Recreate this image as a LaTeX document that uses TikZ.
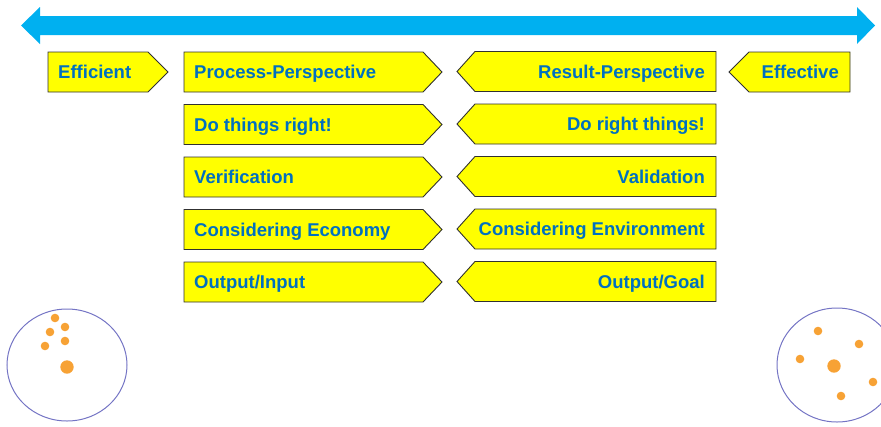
\documentclass[tikz,border=0pt]{standalone}
\usepackage{fontspec}
\setmainfont{Liberation Sans}
\usepackage{xcolor}
\usetikzlibrary{calc}
\definecolor{arrowblue}{HTML}{00B0F0}
\definecolor{boxyellow}{HTML}{FFFF00}
\definecolor{boxline}{HTML}{303030}
\definecolor{textblue}{HTML}{0070C0}
\definecolor{ringblue}{HTML}{7474C4}
\definecolor{dotorange}{HTML}{F7A235}
% pointing boxes: left edge, right edge, tip, top
\newcommand{\boxtoright}[4]{\draw[box] (#1,#4) -- (#2,#4) -- (#3,#4+20) -- (#2,#4+40) -- (#1,#4+40) -- cycle;}
\newcommand{\boxtoleft}[4]{\draw[box] (#2,#4) -- (#1,#4) -- (#3,#4+20) -- (#1,#4+40) -- (#2,#4+40) -- cycle;}
\begin{document}
\begin{tikzpicture}[x=1pt,y=-1pt,
    box/.style={draw=boxline,fill=boxyellow,line width=0.9pt,line join=miter},
    lbl/.style={text=textblue,font=\bfseries\fontsize{18.5}{20}\selectfont,inner sep=0pt},
    ring/.style={draw=ringblue,line width=1pt},
    dot/.style={fill=dotorange}]
	    \useasboundingbox (0,0) rectangle (881,426);

	    % double arrow on top
	    \fill[arrowblue] (21,25.5) -- (40,7) -- (40,16) -- (857,16) -- (857,7) -- (875,25.5)
	        -- (857,44) -- (857,35) -- (40,35) -- (40,44) -- cycle;

	    % boxes
	    \boxtoright{48}{148}{168}{52}
	    \boxtoleft{749}{850}{729}{52}
	    \foreach \t in {52,104.5,157,209.5,262}{
	        \boxtoright{184}{423}{442}{\t}
	        \boxtoleft{475}{716}{457}{\t-0.5}
	    }

	    % labels (on their base lines)
	    \node[lbl,anchor=base west] (efficient) at (58,78.6) {Efficient};
	    \node[lbl,anchor=base east] (effective) at (839,78.6) {Effective};
	    \node[lbl,anchor=base west] (process) at (194,78.6) {Process-Perspective};
	    \node[lbl,anchor=base west] (thingsright) at (194,131.1) {Do things right!};
	    \node[lbl,anchor=base west] (verification) at (194,183.6) {Verification};
	    \node[lbl,anchor=base west] (economy) at (194,236.1) {Considering Economy};
	    \node[lbl,anchor=base west] (outinput) at (194,288.6) {Output/Input};
	    \node[lbl,anchor=base east] (result) at (705,78.1) {Result-Perspective};
	    \node[lbl,anchor=base east] (rightthings) at (705,130.6) {Do right things!};
	    \node[lbl,anchor=base east] (validation) at (705,183.1) {Validation};
	    \node[lbl,anchor=base east] (environment) at (705,235.6) {Considering Environment};
	    \node[lbl,anchor=base east] (outgoal) at (705,288.1) {Output/Goal};

	    % the two circles
	    \draw[ring] (67,365) ellipse (60 and 56);
	    \foreach \p in {(55,318),(65,327),(50,332),(45,346),(65,341)}
	        \fill[dot] \p circle (4.3);
	    \fill[dot] (67,367) circle (6.7);

	    \draw[ring] (837,365) ellipse (60 and 57);
	    \foreach \p in {(818,331),(859,344),(800,359),(873,382),(841,396)}
	        \fill[dot] \p circle (4.3);
	    \fill[dot] (834,366) circle (6.7);
	    \end{tikzpicture}
\end{document}
